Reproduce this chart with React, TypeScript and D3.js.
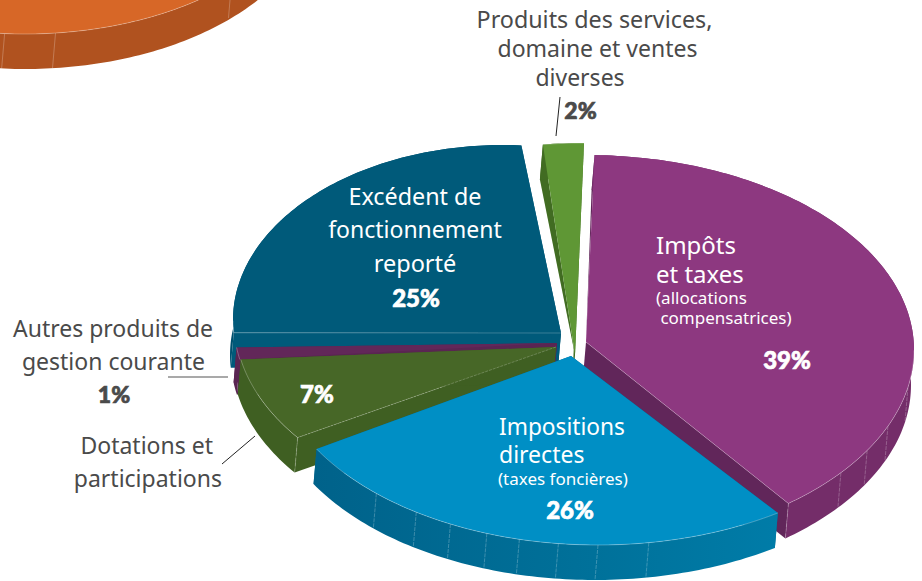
import React from 'react';
import * as d3 from 'd3';

const categories = [
  'Impôts et taxes',
  'Impositions directes',
  'Dotations et participations',
  'Autres produits de gestion courante',
  'Excédent de fonctionnement reporté',
  'Produits des services, domaine et ventes diverses',
];
const shares = [39, 26, 7, 1, 25, 2];

// colours per slice: top face, outer wall, cut wall
const topColors = ['#8d3880', '#008fc5', '#476727', '#622759', '#005a7a', '#5f9735'];
const wallColors = ['#742d69', 'url(#blueWall)', '#3f5f22', '#5a2552', '#00506e', '#416c22'];
const cutColors = ['#61265a', '#00658a', '#3f5f22', '#5a2552', '#005a7a', '#416c22'];

// the slices are pulled apart by hand in the original, so each has its own ellipse and tip
const arcCx = [586, 598, 563, 562, 503, 584];
const arcCy = [350, 353, 323, 323, 320, 338];
const arcRx = [328, 325, 328, 328, 270, 328];
const arcRy = [195, 192, 195, 195, 175, 195];
const tipX = [586, 571, 556, 557, 561, 575];
const tipY = [342, 356, 347, 343, 333, 355];
const turn = [1.5, 6, 0, 0, 3, 0];
const spread = [1, 1, 1, 1, 1.09, 1];
const facetAngles = [
  [101, 113, 121, 129],
  [171, 180, 187, 194, 200, 207, 214, 223],
  [], [], [], [],
];
// which cut edge carries the thin light line
const edgeSide = ['last', '', 'first', '', 'first', ''];
const drawOrder = [5, 4, 3, 2, 0, 1];

const DEPTH_X = -3;
const DEPTH_Y = 35;
const FONT = '"Noto Sans", sans-serif';
const BOLD = 'Lato, sans-serif';
const INK = '#4a4a4a';

const rad = (d: number) => (d * Math.PI) / 180;
const deg = (r: number) => (r * 180) / Math.PI;
const line = d3.line<[number, number]>();

function ring(cx: number, cy: number, rx: number, ry: number, a0: number, a1: number) {
  const n = Math.max(2, Math.ceil(Math.abs(a1 - a0)));
  return d3.range(n + 1).map((i): [number, number] => {
    const a = rad(a0 + ((a1 - a0) * i) / n);
    return [cx + rx * Math.sin(a), cy - ry * Math.cos(a)];
  });
}

const shift = (p: [number, number]): [number, number] => [p[0] + DEPTH_X, p[1] + DEPTH_Y];

const arcs = d3.pie<number>().sort(null)(shares);

function Slice({ i }: { i: number }) {
  const a0 = deg(arcs[i].startAngle) + turn[i];
  const a1 = a0 + deg(arcs[i].endAngle - arcs[i].startAngle) * spread[i];
  const rim = ring(arcCx[i], arcCy[i], arcRx[i], arcRy[i], a0, a1);
  const tip: [number, number] = [tipX[i], tipY[i]];
  const first = rim[0];
  const last = rim[rim.length - 1];

  const outer = [...rim, ...rim.map(shift).reverse()];
  const cutA = [tip, first, shift(first), i === 5 || i === 0 ? tip : shift(tip)];
  const cutB = [tip, last, shift(last), shift(tip)];

  const ticks = facetAngles[i].map((a) => ring(arcCx[i], arcCy[i], arcRx[i], arcRy[i], a, a + 1)[0]);
  if (edgeSide[i] === 'last') ticks.push(last);
  if (edgeSide[i] === 'first' && i !== 4) ticks.push(first);

  // only the near part of the rim catches the light, plus the small green slice
  const lit = i === 5 ? rim : rim.filter((p) => p[1] > arcCy[i]);
  const edge = edgeSide[i] === 'first' ? first : last;

  return (
    <g>
      <path d={line(cutA) + 'Z'} fill={cutColors[i]} />
      <path d={line(cutB) + 'Z'} fill={cutColors[i]} />
      <path d={line(outer) + 'Z'} fill={wallColors[i]} />
      {ticks.map((p, k) => (
        <line key={k} x1={p[0]} y1={p[1]} x2={p[0] + DEPTH_X} y2={p[1] + DEPTH_Y}
          stroke="#fff" strokeOpacity={0.3} strokeWidth={0.8} strokeDasharray="4 1" />
      ))}
      <path d={line([tip, ...rim]) + 'Z'} fill={topColors[i]} />
      {lit.length > 1 && (
        <path d={line(lit) ?? ''} fill="none" stroke="#fff" strokeOpacity={0.35} strokeWidth={0.8} />
      )}
      {edgeSide[i] && (
        <line x1={tip[0]} y1={tip[1]} x2={edge[0]} y2={edge[1]}
          stroke="#fff" strokeOpacity={0.28} strokeWidth={0.8} strokeDasharray={i === 2 ? '3 1' : undefined} />
      )}
    </g>
  );
}

// corner of the neighbouring pie, cut off by the top of the picture
function OtherPie() {
  const cx = 25, cy = -140, ry = 174, rx = 292;
  const rim = ring(cx, cy, rx, ry, 70, 260);
  const wall = [...rim, ...rim.map((p): [number, number] => [p[0], p[1] + DEPTH_Y]).reverse()];
  const ticks = [135, 174, 184].map((a) => ring(cx, cy, rx, ry, a, a + 1)[0]);
  return (
    <g>
      <path d={line(wall) + 'Z'} fill="#b0521f" />
      {ticks.map((p, k) => (
        <line key={k} x1={p[0]} y1={p[1]} x2={p[0] - 3} y2={p[1] + DEPTH_Y}
          stroke="#fff" strokeOpacity={0.3} strokeWidth={0.8} />
      ))}
      <path d={line(rim) + 'Z'} fill="#d76727" />
      <path d={line(rim) ?? ''} fill="none" stroke="#fff" strokeOpacity={0.35} strokeWidth={0.8} />
    </g>
  );
}

type Label = { text: string; x: number; y: number; size: number; color: string; anchor?: string; bold?: boolean };

const pct = (i: number) => `${shares[i]}%`;

const labels: Label[] = [
  { text: 'Produits des services,', x: 594.5, y: 28, size: 23.3, color: INK, anchor: 'middle' },
  { text: 'domaine et ventes', x: 597.5, y: 57, size: 23, color: INK, anchor: 'middle' },
  { text: 'diverses', x: 580, y: 86, size: 23, color: INK, anchor: 'middle' },
  { text: pct(5), x: 580.5, y: 119, size: 23, color: INK, anchor: 'middle', bold: true },
  { text: 'Impôts', x: 656, y: 254, size: 24, color: '#fff' },
  { text: 'et taxes', x: 656, y: 283, size: 24, color: '#fff' },
  { text: '(allocations', x: 656, y: 304, size: 17, color: '#fff' },
  { text: ' compensatrices)', x: 656, y: 324, size: 17, color: '#fff' },
  { text: pct(0), x: 787, y: 369, size: 24, color: '#fff', anchor: 'middle', bold: true },
  { text: 'Excédent de', x: 415, y: 205, size: 23.3, color: '#fff', anchor: 'middle' },
  { text: 'fonctionnement', x: 415, y: 238, size: 23, color: '#fff', anchor: 'middle' },
  { text: 'reporté', x: 415, y: 272, size: 23.5, color: '#fff', anchor: 'middle' },
  { text: pct(4), x: 416, y: 307, size: 24, color: '#fff', anchor: 'middle', bold: true },
  { text: 'Impositions', x: 499, y: 435, size: 22.7, color: '#fff' },
  { text: 'directes', x: 499, y: 463, size: 23, color: '#fff' },
  { text: '(taxes foncières)', x: 498, y: 485, size: 17, color: '#fff' },
  { text: pct(1), x: 570, y: 519, size: 24, color: '#fff', anchor: 'middle', bold: true },
  { text: pct(2), x: 317, y: 403, size: 24, color: '#fff', anchor: 'middle', bold: true },
  { text: 'Autres produits de', x: 213, y: 337, size: 23, color: INK, anchor: 'end' },
  { text: 'gestion courante', x: 205, y: 370, size: 23, color: INK, anchor: 'end' },
  { text: pct(3), x: 114, y: 403, size: 23, color: INK, anchor: 'middle', bold: true },
  { text: 'Dotations et', x: 213, y: 454, size: 23, color: INK, anchor: 'end' },
  { text: 'participations', x: 222, y: 487, size: 23, color: INK, anchor: 'end' },
];

const leaders: [number, number, number, number][] = [
  [560, 97, 556, 136],
  [168, 377, 228, 377],
  [222, 464, 255, 436],
];

export default function App() {
  return (
    <svg width={922} height={581} style={{ position: 'absolute', left: 0, top: 0 }} aria-label={categories.join(', ')}>
      <defs>
        <linearGradient id="blueWall" gradientUnits="userSpaceOnUse" x1={312} y1={0} x2={780} y2={0}>
          <stop offset="0" stopColor="#00628a" />
          <stop offset="0.6" stopColor="#00719a" />
          <stop offset="1" stopColor="#007ca8" />
        </linearGradient>
      </defs>
      <rect width={922} height={581} fill="#fff" />
      <OtherPie />
      {drawOrder.map((i) => <Slice key={i} i={i} />)}
      {leaders.map((l, k) => (
        <line key={k} x1={l[0]} y1={l[1]} x2={l[2]} y2={l[3]} stroke={k === 1 ? '#555' : '#222'} strokeWidth={k === 1 ? 1.2 : 1} />
      ))}
      {labels.map((l, k) => (
        <text key={k} x={l.x} y={l.y} fontSize={l.size} fill={l.color} textAnchor={l.anchor ?? 'start'}
          fontFamily={l.bold ? BOLD : FONT} fontWeight={l.bold ? 900 : 400} xmlSpace="preserve"
          stroke={l.bold ? l.color : 'none'} strokeWidth={l.bold ? 0.7 : 0}>
          {l.text}
        </text>
      ))}
    </svg>
  );
}
